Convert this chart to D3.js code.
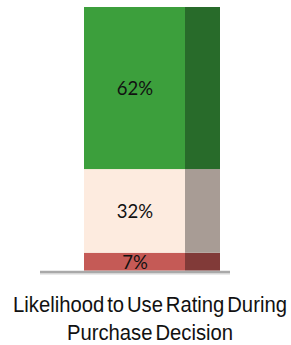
<!DOCTYPE html>
<html>
<head>
<meta charset="utf-8">
<script src="https://cdn.jsdelivr.net/npm/d3@7"></script>
<style>
  body { margin: 0; background: #fff; }
</style>
</head>
<body>
<div id="chart"></div>
<script>
const segments = ["Unlikely", "Neutral", "Likely"];
const values = [7, 32, 62];
const fills = ["#c55a56", "#fdebdf", "#3c9f3c"];
const sideFills = ["#813a38", "#a89c95", "#286b2a"];
const titleLines = ["Likelihood to Use Rating During", "Purchase Decision"];

function init() {
    const width = 291;
    const height = 345;

    const svg = d3.select("#chart")
                  .append("svg")
                  .attr("width", width)
                  .attr("height", height);

    // stack values bottom to top
    let acc = 0;
    const stacked = values.map((v, i) => {
        const d = { name: segments[i], value: v, y0: acc, y1: acc + v, i: i };
        acc += v;
        return d;
    });

    const y = d3.scaleLinear()
                .domain([0, d3.sum(values)])
                .range([271, 7]);

    const barLeft = 84, barRight = 220, sideLeft = 185;

    const g = svg.append("g");

    // front face
    g.selectAll("rect.front")
     .data(stacked)
     .enter()
     .append("rect")
     .attr("class", "front")
     .attr("x", barLeft)
     .attr("width", sideLeft - barLeft)
     .attr("y", d => y(d.y1))
     .attr("height", d => y(d.y0) - y(d.y1))
     .style("fill", d => fills[d.i]);

    // darker side band
    g.selectAll("rect.side")
     .data(stacked)
     .enter()
     .append("rect")
     .attr("class", "side")
     .attr("x", sideLeft)
     .attr("width", barRight - sideLeft)
     .attr("y", d => y(d.y1))
     .attr("height", d => y(d.y0) - y(d.y1))
     .style("fill", d => sideFills[d.i]);

    // baseline
    svg.append("line")
       .attr("x1", 40).attr("x2", 230)
       .attr("y1", 272.5).attr("y2", 272.5)
       .style("stroke", "#d6d6d6")
       .style("stroke-width", "4px");
    svg.append("line")
       .attr("x1", 40).attr("x2", 230)
       .attr("y1", 272).attr("y2", 272)
       .style("stroke", "#a9a9a9")
       .style("stroke-width", "2px");

    // value labels
    g.selectAll("text.val")
     .data(stacked)
     .enter()
     .append("text")
     .attr("class", "val")
     .attr("x", 135)
     .attr("y", d => (y(d.y0) + y(d.y1)) / 2 + 2)
     .attr("text-anchor", "middle")
     .attr("dominant-baseline", "middle")
     .style("font-family", "Lato, sans-serif")
     .style("font-size", "18.5px")
     .style("fill", "#111")
     .text(d => d.value + "%");

    // category title, condensed look
    const titleX = 150;
    const title = svg.append("g");
    const lines = title.selectAll("text.title")
       .data(titleLines)
       .enter()
       .append("text")
       .attr("class", "title")
       .attr("x", 0)
       .attr("y", (d, i) => 312.5 + i * 27.5)
       .attr("text-anchor", "middle")
       .style("font-family", "'Liberation Sans', Arial, sans-serif")
       .style("font-size", "22px")
       .style("word-spacing", "-3px")
       .style("fill", "#111")
       .text(d => d);

    const w = lines.node().getComputedTextLength();
    const sx = 274 / w;
    title.attr("transform", `translate(${titleX},0) scale(${sx},1)`);
}

window.onload = init;
</script>
</body>
</html>
